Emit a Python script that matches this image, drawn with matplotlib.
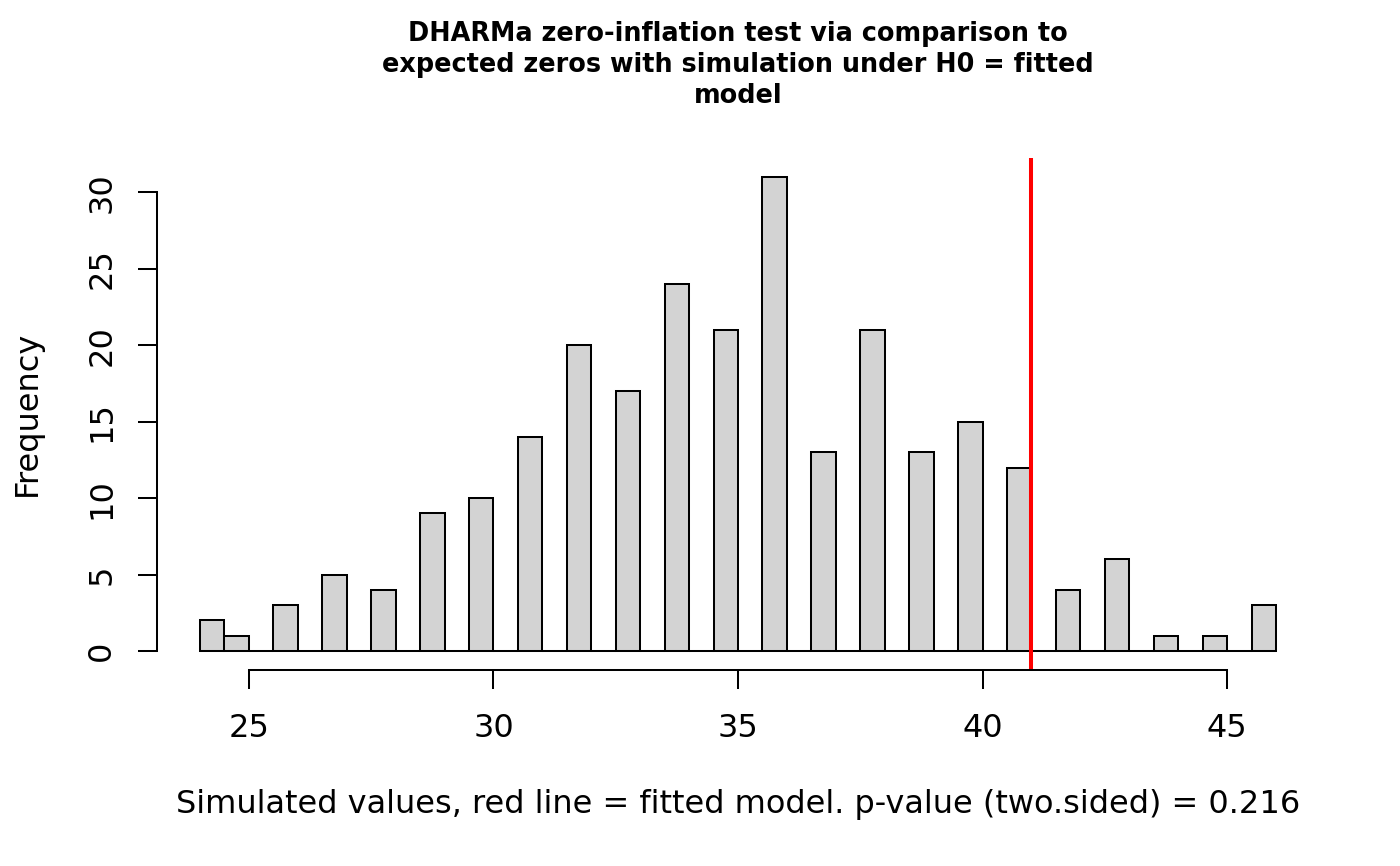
import numpy as np
import matplotlib
matplotlib.use("Agg")
import matplotlib.pyplot as plt

# simulated number of zeros (value -> how many simulations gave it)
sim_values = [24, 25, 26, 27, 28, 29, 30, 31, 32, 33, 34, 35,
              36, 37, 38, 39, 40, 41, 42, 43, 44, 45, 46]
sim_counts = [2, 1, 3, 5, 4, 9, 10, 14, 20, 17, 24, 21,
              31, 13, 21, 13, 15, 12, 4, 6, 1, 1, 3]
observed_zeros = 41

title = ("DHARMa zero-inflation test via comparison to\n"
         "expected zeros with simulation under H0 = fitted\n"
         "model")
xlabel = "Simulated values, red line = fitted model. p-value (two.sided) = 0.216"
ylabel = "Frequency"
xticks = [25, 30, 35, 40, 45]
yticks = [0, 5, 10, 15, 20, 25, 30]

W, H = 1400, 866
LW = 1.45

# R style hist: breaks every 0.5, right-closed bins
breaks = np.arange(min(sim_values), max(sim_values) + 0.01, 0.5)
sim = np.repeat(sim_values, sim_counts)
idx = np.clip(np.searchsorted(breaks, sim, side="left") - 1, 0, len(breaks) - 2)
bin_counts = np.bincount(idx, minlength=len(breaks) - 1)

fig = plt.figure(figsize=(W / 100, H / 100), dpi=100)
ax = fig.add_axes([157 / W, 1 - 670 / H, (1319 - 157) / W, (670 - 158) / H])

ax.bar(breaks[:-1], bin_counts, width=0.5, align="edge",
       color="#d3d3d3", edgecolor="black", linewidth=LW)
ax.hlines(0, breaks[0], breaks[-1], color="black", linewidth=LW)
ax.axvline(observed_zeros, color="red", linewidth=2.9)

ext_x = 0.04 * (breaks[-1] - breaks[0])
ext_y = 0.04 * max(bin_counts)
ax.set_xlim(breaks[0] - ext_x, breaks[-1] + ext_x)
ax.set_ylim(-ext_y, max(bin_counts) + ext_y)

for s in ["top", "right"]:
    ax.spines[s].set_visible(False)
ax.spines["bottom"].set_bounds(xticks[0], xticks[-1])
ax.spines["left"].set_bounds(yticks[0], yticks[-1])
ax.spines["bottom"].set_linewidth(LW)
ax.spines["left"].set_linewidth(LW)

ax.set_xticks(xticks)
ax.set_yticks(yticks)
ax.tick_params(direction="out", length=13.8, width=LW, labelsize=23)
ax.tick_params(axis="x", pad=17.5)
ax.tick_params(axis="y", pad=14.8)
plt.setp(ax.get_yticklabels(), rotation=90, va="center")

fig.text(738 / W, 1 - 65 / H, title, ha="center", va="center",
         fontsize=18.4, fontweight="bold", linespacing=1.27)
fig.text(738 / W, 1 - 805 / H, xlabel, ha="center", va="center", fontsize=23)
fig.text(27 / W, 1 - 413 / H, ylabel, ha="center", va="center",
         rotation=90, fontsize=23)

fig.savefig("out.png", dpi=100)
